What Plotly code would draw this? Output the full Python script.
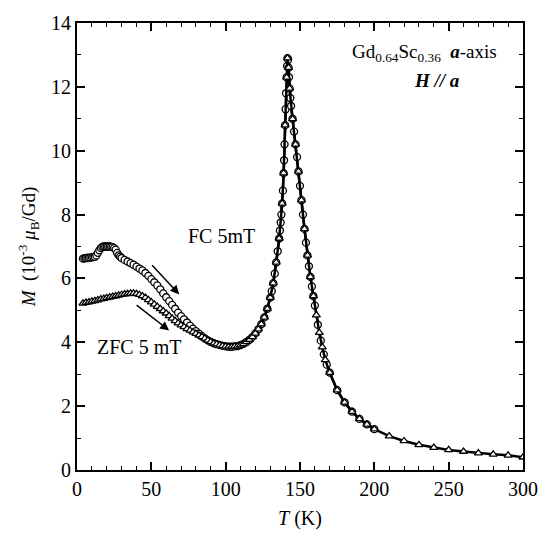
import plotly.graph_objects as go

# Field-cooled (FC) magnetization, 5 mT
fc_T = [4, 5, 6, 7, 8, 9, 10, 11, 12, 13, 14, 15, 16, 17, 18, 19, 20, 21, 22, 23, 24, 25, 26, 27, 28, 29, 30,
        32, 34, 36, 38, 40, 42, 44, 46, 48, 50, 52, 54, 56, 58, 60, 62, 64, 66, 68, 70, 72, 74, 76, 78, 80,
        82, 84, 86, 88, 90, 92, 94, 96, 98, 100, 102, 104, 106, 108, 110, 112, 114, 116, 118, 120, 122, 124,
        126, 128, 130, 131, 132, 133, 134, 135, 136, 136.5, 137, 137.5, 138, 138.5, 139, 139.3, 139.6, 140,
        140.3, 140.6, 141, 141.3, 141.6, 142, 142.3, 142.6, 143, 143.5, 144, 145, 146, 147, 148, 149, 150,
        151, 152, 153, 154, 155, 156, 157, 158, 159, 160, 162, 164, 166, 168, 170, 175, 180, 185, 190, 195, 200]
fc_M = [6.62, 6.63, 6.64, 6.64, 6.65, 6.65, 6.66, 6.67, 6.68, 6.72, 6.80, 6.88, 6.95, 6.99, 7.00, 7.00, 7.00,
        7.00, 7.00, 6.99, 6.98, 6.95, 6.90, 6.80, 6.72, 6.68, 6.64,
        6.58, 6.53, 6.48, 6.43, 6.37, 6.31, 6.25, 6.17, 6.08, 5.98, 5.88, 5.78, 5.66, 5.53, 5.41, 5.29, 5.17,
        5.05, 4.93, 4.82, 4.72, 4.62, 4.52, 4.43, 4.35,
        4.27, 4.19, 4.12, 4.06, 4.01, 3.97, 3.94, 3.91, 3.89, 3.87, 3.86, 3.86, 3.87, 3.88, 3.91, 3.95, 4.01,
        4.08, 4.17, 4.28, 4.41, 4.57,
        4.78, 5.05, 5.40, 5.60, 5.85, 6.15, 6.50, 6.85, 7.25, 7.50, 7.75, 8.00, 8.35, 8.75, 9.30, 9.70, 10.2, 10.8,
        11.3, 11.8, 12.3, 12.65, 12.9, 12.85, 12.6, 12.3, 11.95, 11.65, 11.4, 11.0, 10.6, 10.2, 9.80, 9.35, 8.90,
        8.45, 8.00, 7.55, 7.12, 6.72, 6.38, 6.05, 5.75, 5.45, 5.15, 4.55, 4.05, 3.62, 3.30, 3.05, 2.50, 2.12,
        1.83, 1.60, 1.43, 1.28]

# Zero-field-cooled (ZFC) magnetization, 5 mT
zfc_T = [4, 6, 8, 10, 12, 14, 16, 18, 20, 22, 24, 26, 28, 30, 32, 34, 36, 38, 40, 42, 44, 46, 48, 50, 52, 54,
         56, 58, 60, 62, 64, 66, 68, 70, 72, 74, 76, 78, 80, 82, 84, 86, 88, 90, 92, 94, 96, 98, 100, 102, 104,
         106, 108, 110, 112, 114, 116, 118, 120, 122, 124, 126, 128, 130, 132, 134, 136, 138, 139, 140, 141,
         141.6, 142.3, 143, 145, 147, 149, 151, 153, 155, 157, 159, 161, 163, 165, 167, 170, 175, 180, 185,
         190, 195, 200, 210, 220, 230, 240, 250, 260, 270, 280, 290, 300]
zfc_M = [5.22, 5.24, 5.26, 5.28, 5.30, 5.32, 5.35, 5.37, 5.39, 5.41, 5.43, 5.45, 5.47, 5.49, 5.51, 5.52, 5.53,
         5.53, 5.52, 5.49, 5.45, 5.40, 5.33, 5.26, 5.19, 5.12,
         5.05, 4.98, 4.91, 4.83, 4.75, 4.67, 4.60, 4.54, 4.48, 4.42, 4.37, 4.32, 4.27, 4.22, 4.17, 4.12, 4.06,
         4.01, 3.97, 3.94, 3.91, 3.89, 3.87, 3.86, 3.86,
         3.87, 3.88, 3.91, 3.95, 4.01, 4.08, 4.17, 4.28, 4.41, 4.57, 4.78, 5.05, 5.40, 5.85, 6.50, 7.25, 8.35,
         9.30, 10.8, 12.3,
         12.9, 12.6, 11.95, 11.0, 10.2, 9.35, 8.45, 7.55, 6.72, 6.05, 5.45, 4.85, 4.30, 3.85, 3.45, 3.05, 2.50,
         2.12, 1.83,
         1.60, 1.43, 1.28, 1.06, 0.91, 0.79, 0.70, 0.63, 0.58, 0.53, 0.49, 0.46, 0.40]

x_ticks = [0, 50, 100, 150, 200, 250, 300]
y_ticks = [0, 2, 4, 6, 8, 10, 12, 14]

FONT = "Liberation Serif"

fig = go.Figure()

fig.add_trace(go.Scatter(
    x=fc_T, y=fc_M, mode="lines+markers", name="FC 5mT",
    line=dict(color="black", width=2.5),
    marker=dict(symbol="circle", size=7, color="white", line=dict(color="black", width=1.3)),
))
fig.add_trace(go.Scatter(
    x=zfc_T, y=zfc_M, mode="lines+markers", name="ZFC 5 mT",
    line=dict(color="black", width=2.5),
    marker=dict(symbol="triangle-up", size=7, color="white", line=dict(color="black", width=1.3)),
))

fig.update_layout(
    width=550, height=538,
    margin=dict(l=77, r=16, t=23, b=60),
    paper_bgcolor="white", plot_bgcolor="white",
    font=dict(family=FONT, size=20, color="black"),
    showlegend=False,
    xaxis=dict(
        range=[0, 300], tickvals=x_ticks, ticktext=[str(v) for v in x_ticks],
        showgrid=False, zeroline=False, showline=True, linecolor="black", linewidth=2,
        mirror="ticks", ticks="inside", ticklen=8, tickwidth=1.5, tickcolor="black",
        tickfont=dict(family=FONT, size=20, color="black"),
        minor=dict(dtick=10, ticks="inside", ticklen=4, tickwidth=1.3, tickcolor="black"),
        title=dict(text="<i>T</i> (K)", font=dict(family=FONT, size=20, color="black"), standoff=12),
    ),
    yaxis=dict(
        range=[0, 14], tickvals=y_ticks, ticktext=[str(v) for v in y_ticks],
        showgrid=False, zeroline=False, showline=True, linecolor="black", linewidth=2,
        mirror="ticks", ticks="inside", ticklen=8, tickwidth=1.5, tickcolor="black",
        tickfont=dict(family=FONT, size=20, color="black"),
        minor=dict(dtick=1, ticks="inside", ticklen=4, tickwidth=1.3, tickcolor="black"),
        title=dict(text="<i>M</i>  (10<sup>-3</sup> <i>μ</i><sub>B</sub>/Gd)",
                   font=dict(family=FONT, size=19, color="black"), standoff=10),
    ),
)

fig.add_annotation(x=97.5, y=7.32, text="FC 5mT", showarrow=False,
                   font=dict(family=FONT, size=20, color="black"))
fig.add_annotation(x=41.5, y=3.85, text="ZFC 5 mT", showarrow=False,
                   font=dict(family=FONT, size=20, color="black"))

# Cooling-direction arrows
fig.add_annotation(x=68.8, y=5.5, ax=49.6, ay=6.46, axref="x", ayref="y", text="",
                   showarrow=True, arrowhead=2, arrowsize=1.2, arrowwidth=1.5, arrowcolor="black")
fig.add_annotation(x=62, y=4.37, ax=39.1, ay=5.2, axref="x", ayref="y", text="",
                   showarrow=True, arrowhead=2, arrowsize=1.2, arrowwidth=1.5, arrowcolor="black")

fig.add_annotation(x=234, y=13.05, xanchor="center",
                   text="Gd<sub>0.64</sub>Sc<sub>0.36</sub>  <b><i>a</i></b>-axis",
                   showarrow=False, font=dict(family=FONT, size=19, color="black"))
fig.add_annotation(x=242, y=12.2, xanchor="center", text="<b><i>H // a</i></b>",
                   showarrow=False, font=dict(family=FONT, size=19, color="black"))

fig.write_html("out.html")
